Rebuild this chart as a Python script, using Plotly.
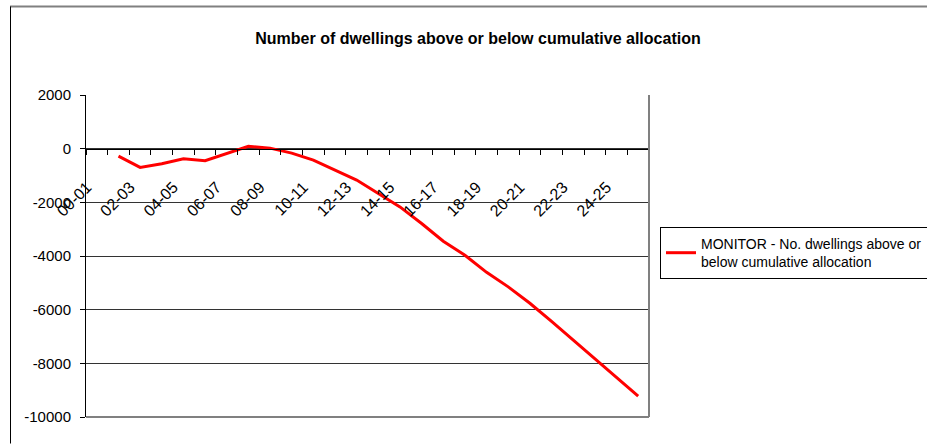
import plotly.graph_objects as go

# ---------------- data ----------------
categories = ["00-01", "01-02", "02-03", "03-04", "04-05", "05-06", "06-07",
              "07-08", "08-09", "09-10", "10-11", "11-12", "12-13", "13-14",
              "14-15", "15-16", "16-17", "17-18", "18-19", "19-20", "20-21",
              "21-22", "22-23", "23-24", "24-25", "25-26"]
monitor_values = [None, -280, -700, -560, -375, -450, -190, 85, 20, -165,
                  -425, -800, -1170, -1670, -2170, -2790, -3450, -3970,
                  -4610, -5150, -5760, -6440, -7130, -7820, -8510, -9220]
series_name = "MONITOR - No. dwellings above or<br>below cumulative allocation"
title_text = "Number of dwellings above or below cumulative allocation"
y_ticks = [2000, 0, -2000, -4000, -6000, -8000, -10000]
y_tick_text = ["2000", "0", "-2000", "-4000", "-6000", "-8000", "-10000"]
x_tick_text = [c if i % 2 == 0 else "" for i, c in enumerate(categories)]

# ---------------- layout geometry (pixels) ----------------
W, H = 927, 446
L, R, T, B = 86, 649, 95, 417
pw, ph = R - L, B - T

def px(xp):
    return (xp - L) / pw

def py(yp):
    return (B - yp) / ph

y_min, y_max = -10000, 2000
zero_pos = (0 - y_min) / (y_max - y_min)

FONT = "Liberation Sans, Arial, sans-serif"

fig = go.Figure()
fig.add_trace(go.Scatter(
    x=categories, y=monitor_values, mode="lines", name=series_name,
    line=dict(color="#FF0000", width=3), connectgaps=False,
))

fig.update_layout(
    width=W, height=H,
    margin=dict(l=L, r=W - R, t=T, b=H - B, autoexpand=False),
    paper_bgcolor="white", plot_bgcolor="white",
    font=dict(family=FONT, size=15, color="black"),
    title=dict(text="<b>" + title_text + "</b>", x=px(478), xanchor="center",
               xref="paper", y=1 - 38 / H, yanchor="middle",
               font=dict(family=FONT, size=16, color="black")),
    showlegend=True,
    legend=dict(x=px(660), y=py(227), xanchor="left", yanchor="top",
                bordercolor="black", borderwidth=1, bgcolor="white",
                font=dict(family=FONT, size=14, color="black"),
                tracegroupgap=0),
)

fig.update_xaxes(
    type="category", categoryorder="array", categoryarray=categories,
    range=[-0.5, len(categories) - 0.5],
    tickmode="array", tickvals=categories, ticktext=x_tick_text,
    tickson="boundaries", ticks="outside", ticklen=5, tickcolor="black",
    tickangle=-45, ticklabelstandoff=22, ticklabelshift=-10,
    showline=True, linecolor="black", linewidth=1,
    showgrid=False, zeroline=False,
    anchor="free", position=zero_pos,
    tickfont=dict(family=FONT, size=16, color="black"),
)
fig.update_yaxes(
    range=[y_min, y_max], tickmode="array", tickvals=y_ticks, ticktext=y_tick_text,
    ticks="outside", ticklen=5, tickcolor="black",
    showline=True, linecolor="black", linewidth=1,
    showgrid=True, gridcolor="#333333", gridwidth=1,
    zeroline=False, ticklabelstandoff=6,
    tickfont=dict(family=FONT, size=15, color="black"),
)

# plot-area border (right and bottom, grey)
fig.add_shape(type="line", xref="x domain", yref="y domain", x0=1, x1=1, y0=0, y1=1,
              line=dict(color="#808080", width=2), layer="above")
fig.add_shape(type="line", xref="x domain", yref="y domain", x0=0, x1=1, y0=0, y1=0,
              line=dict(color="#808080", width=2), layer="above")
# outer chart border
fig.add_shape(type="line", xref="paper", yref="paper", x0=px(10), x1=px(W + 5),
              y0=py(6.5), y1=py(6.5), line=dict(color="#808080", width=2), layer="above")
fig.add_shape(type="line", xref="paper", yref="paper", x0=px(10.5), x1=px(10.5),
              y0=py(6.5), y1=py(443.5), line=dict(color="black", width=1), layer="above")

fig.write_html("out.html")
